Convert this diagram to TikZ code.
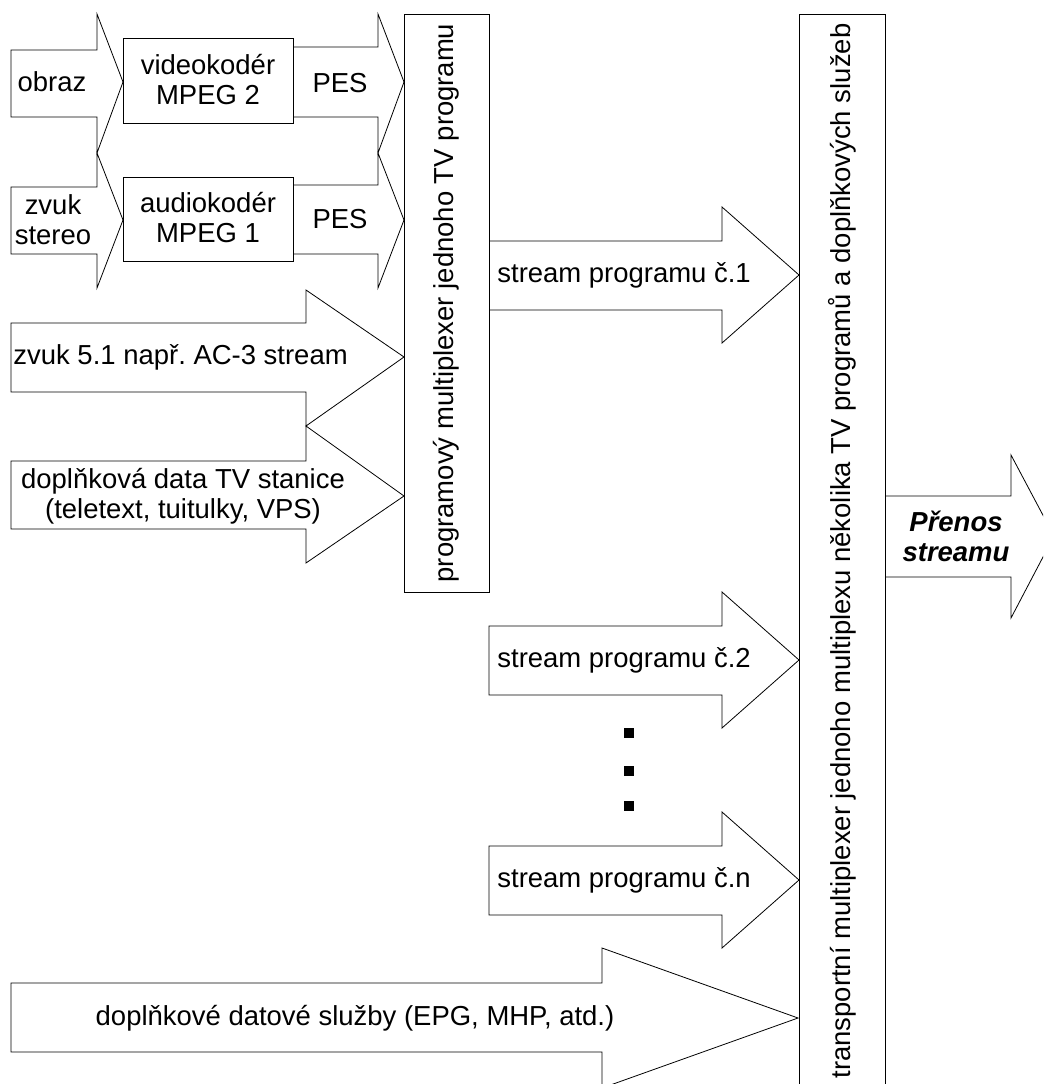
\documentclass[tikz,border=0pt]{standalone}
\usepackage{fontspec}
\setmainfont{Liberation Sans}
\frenchspacing
\newcommand\blkarrow[9]{%
  \draw[blk] (#1,#4) -- (#2,#4) -- (#2,#6) -- (#3,#8) -- (#2,#7) -- (#2,#5) -- (#1,#5) -- cycle;}
\begin{document}
\begin{tikzpicture}[x=0.75pt,y=-0.75pt, line width=0.6pt,
  blk/.style={draw=black, fill=white, line join=miter},
  lbl/.style={font=\fontsize{20.6}{22.5}\selectfont, align=center, inner sep=0pt},
  dotm/.style={fill=black, draw=none, minimum width=7.5pt, minimum height=8pt, inner sep=0pt}]
\useasboundingbox (0,0) rectangle (1043,1084);
\clip (0,0) rectangle (1043,1084);
% block arrows
\blkarrow{11}{97}{123}{50}{117}{14}{153}{82}{}
\blkarrow{11}{97}{123}{187}{254}{153}{288}{220}{}
\blkarrow{293}{378}{404}{47}{117}{14}{153}{82}{}
\blkarrow{293}{378}{404}{185}{254}{153}{288}{220}{}
\blkarrow{11}{306}{404}{323}{392}{290}{426}{357}{}
\blkarrow{11}{306}{404}{461}{529}{426}{563}{496}{}
\blkarrow{489}{722}{799}{241}{310}{207}{343}{275}{}
\blkarrow{489}{722}{799}{626}{695}{592}{728}{660}{}
\blkarrow{489}{722}{799}{846}{915}{812}{948}{880}{}
\blkarrow{11}{602}{798}{983}{1052}{948}{1088}{1018}{}
\blkarrow{885}{1011}{1054}{496}{577}{455}{618}{536}{}
% boxes
\draw[blk] (123,38) rectangle (293,123);
\draw[blk] (123,177) rectangle (293,261);
\draw[blk] (404,14) rectangle (489,592);
\draw[blk] (799,14) rectangle (885,1095);
% labels
\node[lbl] (obraz) at (52,82) {obraz};
\node[lbl] (zvuk) at (53,220) {zvuk\\stereo};
\node[lbl] (vk) at (208,80) {videokodér\\MPEG 2};
\node[lbl] (ak) at (208,218) {audiokodér\\MPEG 1};
\node[lbl] (pes1) at (340,83) {PES};
\node[lbl] (pes2) at (340,219) {PES};
\node[lbl, anchor=west] (z51) at (13,357) {zvuk 5.1 např. AC-3 stream};
\node[lbl] (dd) at (183,496) {doplňková data TV stanice\\(teletext, tuitulky, VPS)};
\node[lbl, anchor=west] (s1) at (497,275) {stream programu č.1};
\node[lbl, anchor=west] (s2) at (497,660) {stream programu č.2};
\node[lbl, anchor=west] (sn) at (497,880) {stream programu č.n};
\node[lbl] (ds) at (355,1018) {doplňkové datové služby (EPG, MHP, atd.)};
\node[lbl, font=\fontsize{20.6}{22.5}\selectfont\bfseries\itshape] (pr) at (956,536) {Přenos\\streamu};
\node[lbl, rotate=90] (mux1) at (446.5,303) {programový multiplexer jednoho TV programu};
\node[lbl, rotate=90] (mux2) at (842,551) {transportní multiplexer jednoho multiplexu několika TV programů a doplňkových služeb};
% dots
\node[dotm] (d1) at (629,733) {};
\node[dotm] (d2) at (629,771) {};
\node[dotm] (d3) at (629,806) {};
\end{tikzpicture}
\end{document}
